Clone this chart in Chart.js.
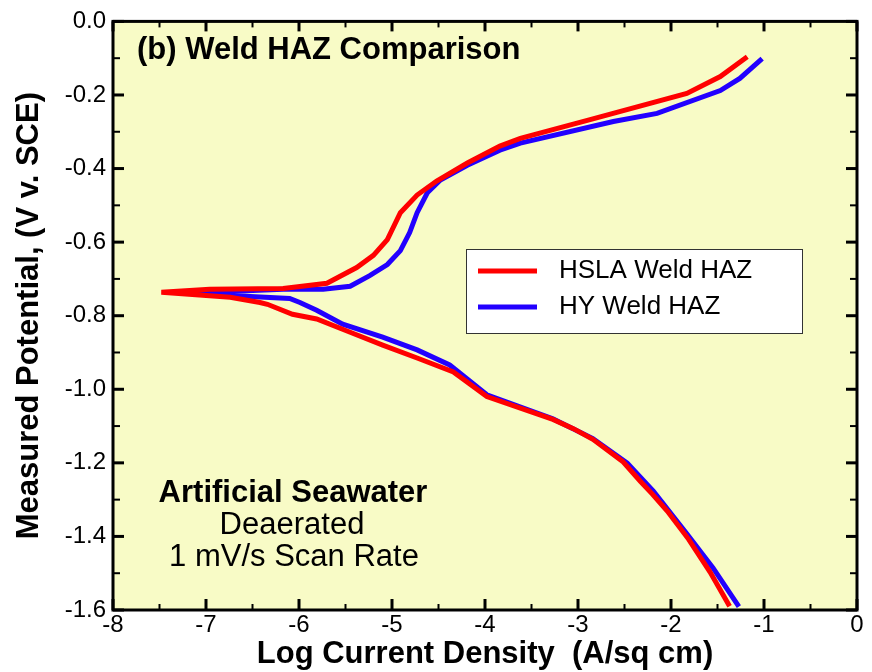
<!DOCTYPE html>
<html>
<head>
<meta charset="utf-8">
<script src="https://cdn.jsdelivr.net/npm/chart.js@4.4.1/dist/chart.umd.min.js"></script>
<style>
  html, body { margin: 0; padding: 0; background: #fff; }
</style>
</head>
<body>
<canvas id="haz-chart" width="872" height="672"></canvas>
<script>
// Each scan runs from the cathodic end up to Ecorr, then out along the anodic branch.
const hslaLogI = [
  -1.37, -1.58, -1.81, -2.04, -2.20, -2.33, -2.52, -2.84, -3.05, -3.27,
  -3.98, -4.34, -4.73, -5.10, -5.45, -5.81, -6.07, -6.34, -6.42, -6.74, -7.48,
  -6.96, -6.17, -5.70, -5.38, -5.20, -5.05, -4.91, -4.73, -4.52, -4.19,
  -3.84, -3.62, -2.90, -1.83, -1.47, -1.18
];
const hslaPotential = [
  -1.590, -1.497, -1.408, -1.331, -1.285, -1.250, -1.196, -1.136, -1.107, -1.082,
  -1.020, -0.953, -0.915, -0.880, -0.845, -0.809, -0.796, -0.769, -0.764, -0.750, -0.736,
  -0.728, -0.726, -0.712, -0.669, -0.636, -0.593, -0.520, -0.472, -0.434, -0.385,
  -0.339, -0.318, -0.269, -0.196, -0.150, -0.096
];
const hyLogI = [
  -1.27, -1.55, -1.83, -2.19, -2.47, -2.84, -3.27, -3.98, -4.38, -4.73,
  -5.10, -5.53, -5.81, -5.99, -6.10, -6.74, -6.96,
  -6.17, -5.74, -5.45, -5.24, -5.05, -4.91, -4.81, -4.73, -4.62, -4.48,
  -4.19, -3.84, -3.62, -2.62, -2.15, -1.47, -1.26, -1.02
];
const hyPotential = [
  -1.591, -1.485, -1.393, -1.277, -1.201, -1.134, -1.080, -1.015, -0.934, -0.893,
  -0.858, -0.823, -0.785, -0.764, -0.753, -0.745, -0.736,
  -0.728, -0.728, -0.720, -0.691, -0.661, -0.623, -0.574, -0.520, -0.466, -0.431,
  -0.391, -0.350, -0.331, -0.272, -0.250, -0.188, -0.155, -0.101
];
const seriesNames = ['HSLA Weld HAZ', 'HY Weld HAZ'];
const xTickValues = [-8, -7, -6, -5, -4, -3, -2, -1, 0];
const yTickValues = [0, -0.2, -0.4, -0.6, -0.8, -1.0, -1.2, -1.4, -1.6];
const noteLines = ['Artificial Seawater', 'Deaerated', '1 mV/s Scan Rate'];

const FONT = '"Liberation Sans", Arial, Helvetica, sans-serif';

function toPoints(xs, ys) {
  return xs.map((x, i) => ({ x: x, y: ys[i] }));
}

// yellow plot panel, black frame, inward ticks on all four sides, legend and notes
const framePlugin = {
  id: 'frame',
  beforeDraw(chart) {
    const { ctx, chartArea: a } = chart;
    ctx.save();
    ctx.fillStyle = '#ffffff';
    ctx.fillRect(0, 0, chart.width, chart.height);
    ctx.fillStyle = '#f8fbc6';
    ctx.fillRect(a.left, a.top, a.right - a.left, a.bottom - a.top);
    ctx.restore();
  },
  afterDraw(chart) {
    const { ctx, chartArea: a } = chart;
    const xs = chart.scales.x, ys = chart.scales.y;
    ctx.save();
    ctx.strokeStyle = '#000';
    ctx.lineCap = 'butt';

    const tick = (x1, y1, x2, y2, w) => {
      ctx.lineWidth = w;
      ctx.beginPath();
      ctx.moveTo(x1, y1);
      ctx.lineTo(x2, y2);
      ctx.stroke();
    };

    const xt = xs.ticks.map(t => t.value);
    xt.forEach((v, i) => {
      const px = xs.getPixelForValue(v);
      tick(px, a.bottom, px, a.bottom - 11, 3);
      tick(px, a.top, px, a.top + 10, 3);
      if (i < xt.length - 1) {
        const mx = xs.getPixelForValue((v + xt[i + 1]) / 2);
        tick(mx, a.bottom, mx, a.bottom - 6, 2);
        tick(mx, a.top, mx, a.top + 6, 2);
      }
    });
    const yt = ys.ticks.map(t => t.value);
    yt.forEach((v, i) => {
      const py = ys.getPixelForValue(v);
      tick(a.left, py, a.left + 11, py, 3);
      tick(a.right, py, a.right - 11, py, 3);
      if (i < yt.length - 1) {
        const my = ys.getPixelForValue((v + yt[i + 1]) / 2);
        tick(a.left, my, a.left + 7, my, 2);
        tick(a.right, my, a.right - 7, my, 2);
      }
    });

    ctx.lineWidth = 3;
    ctx.strokeRect(a.left, a.top, a.right - a.left, a.bottom - a.top);

    // panel heading
    ctx.fillStyle = '#000';
    ctx.textBaseline = 'middle';
    ctx.textAlign = 'left';
    ctx.font = 'bold 31px ' + FONT;
    ctx.fillText('(b) Weld HAZ Comparison', a.left + 24, 50);

    // test conditions
    ctx.textAlign = 'center';
    ctx.font = 'bold 31px ' + FONT;
    ctx.fillText(noteLines[0], 293, 493);
    ctx.font = '31px ' + FONT;
    ctx.fillText(noteLines[1], 292, 525);
    ctx.fillText(noteLines[2], 294, 557);

    // legend box
    const lx = 466, ly = 249, lw = 336, lh = 84;
    ctx.fillStyle = '#fff';
    ctx.fillRect(lx, ly, lw, lh);
    ctx.lineWidth = 1;
    ctx.strokeStyle = '#333';
    ctx.strokeRect(lx + 0.5, ly + 0.5, lw, lh);
    ctx.font = '26px ' + FONT;
    ctx.textAlign = 'left';
    chart.data.datasets.forEach((ds, i) => {
      const rowY = ly + 22 + i * 36;
      ctx.strokeStyle = ds.borderColor;
      ctx.lineWidth = 5;
      ctx.beginPath();
      ctx.moveTo(lx + 12, rowY);
      ctx.lineTo(lx + 71, rowY);
      ctx.stroke();
      ctx.fillStyle = '#000';
      ctx.fillText(ds.label, lx + 93, rowY);
    });
    ctx.restore();
  }
};

new Chart(document.getElementById('haz-chart'), {
  type: 'scatter',
  data: {
    datasets: [
      {
        label: seriesNames[0],
        data: toPoints(hslaLogI, hslaPotential),
        borderColor: '#ff0000',
        showLine: true,
        borderWidth: 5,
        pointRadius: 0,
        tension: 0
      },
      {
        label: seriesNames[1],
        data: toPoints(hyLogI, hyPotential),
        borderColor: '#2200ff',
        showLine: true,
        borderWidth: 5,
        pointRadius: 0,
        tension: 0
      }
    ]
  },
  options: {
    responsive: false,
    animation: false,
    layout: { padding: { top: 17, right: 15, left: 0, bottom: 0 } },
    plugins: {
      legend: { display: false },
      tooltip: { enabled: false }
    },
    scales: {
      x: {
        type: 'linear',
        min: -8,
        max: 0,
        afterBuildTicks: s => { s.ticks = xTickValues.map(v => ({ value: v })); },
        afterFit: s => { s.height = 62; },
        grid: { display: false, drawTicks: false },
        border: { display: false },
        ticks: {
          padding: 1,
          color: '#000',
          font: { family: FONT, size: 24 },
          callback: v => String(v)
        },
        title: {
          display: true,
          text: 'Log Current Density  (A/sq cm)',
          color: '#000',
          font: { family: FONT, size: 31, weight: 'bold', lineHeight: 1 },
          padding: { top: 0, bottom: 2 }
        }
      },
      y: {
        type: 'linear',
        min: -1.6,
        max: 0,
        afterBuildTicks: s => { s.ticks = yTickValues.map(v => ({ value: v })); },
        afterFit: s => { s.width = 113; },
        grid: { display: false, drawTicks: false },
        border: { display: false },
        ticks: {
          padding: 7,
          color: '#000',
          font: { family: FONT, size: 24 },
          callback: v => v.toFixed(1)
        },
        title: {
          display: true,
          text: 'Measured Potential, (V v. SCE)',
          color: '#000',
          font: { family: FONT, size: 31, weight: 'bold', lineHeight: 1 },
          padding: { top: 14, bottom: 0 }
        }
      }
    }
  },
  plugins: [framePlugin]
});
</script>
</body>
</html>
